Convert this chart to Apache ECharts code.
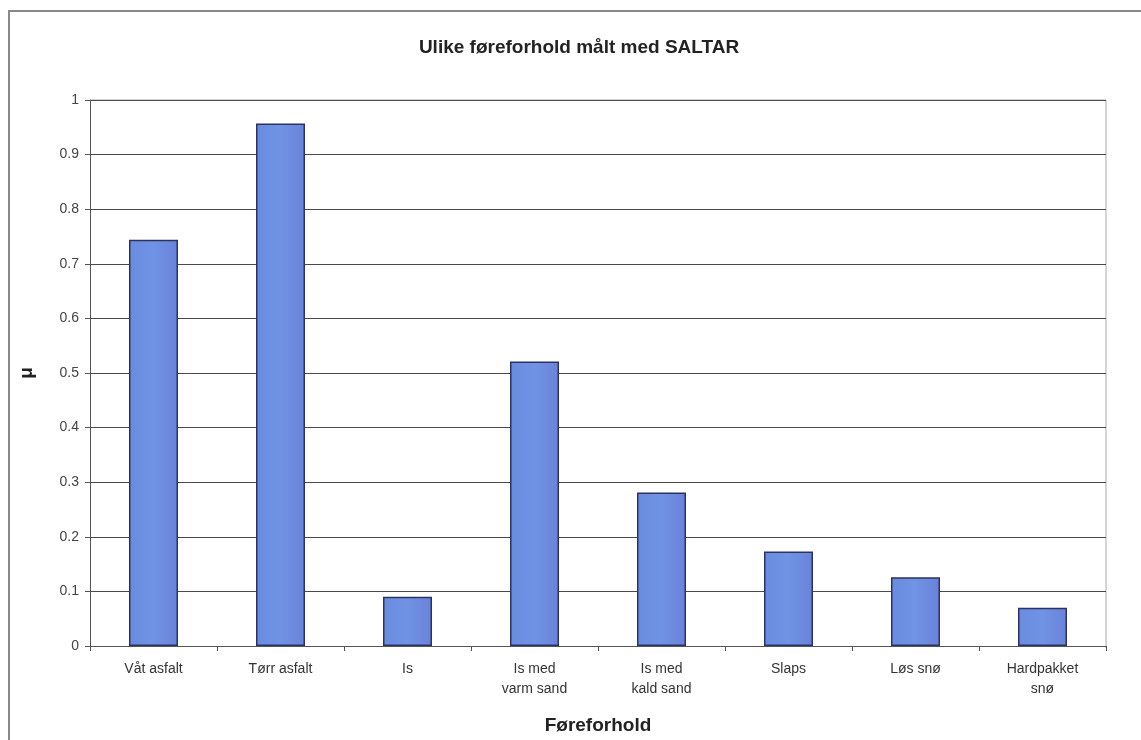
<!DOCTYPE html>
<html>
<head>
<meta charset="utf-8">
<script src="https://cdn.jsdelivr.net/npm/echarts@6/dist/echarts.min.js"></script>
<style>html,body{margin:0;padding:0;background:#fff}#c{width:1141px;height:740px}</style>
</head>
<body>
<div id="c"></div>
<script>
var categories = ['Våt asfalt', 'Tørr asfalt', 'Is', 'Is med\nvarm sand', 'Is med\nkald sand', 'Slaps', 'Løs snø', 'Hardpakket\nsnø'];
var muValues = [0.744, 0.957, 0.09, 0.521, 0.281, 0.173, 0.126, 0.07];
var yTicks = [0, 0.1, 0.2, 0.3, 0.4, 0.5, 0.6, 0.7, 0.8, 0.9, 1];

var chart = echarts.init(document.getElementById('c'));
chart.setOption({
  backgroundColor: '#fff',
  animation: false,
  title: {
    text: 'Ulike føreforhold målt med SALTAR',
    left: 574, top: 33, textAlign: 'center',
    textStyle: { fontFamily: '"Liberation Sans", Arial, sans-serif', fontWeight: 'bold', fontSize: 19, color: '#222' }
  },
  graphic: [
    { type: 'polyline', shape: { points: [[9, 740], [9, 11], [1141, 11]] }, style: { stroke: '#888', lineWidth: 2, fill: null } },
    { type: 'polyline', shape: { points: [[90, 100], [1106, 100], [1106, 648]] }, style: { stroke: '#aaa', lineWidth: 1, fill: null } }
  ],
  grid: { left: 90, right: 35, top: 100, bottom: 92, containLabel: false },
  xAxis: {
    type: 'category',
    data: categories,
    name: 'Føreforhold',
    nameLocation: 'middle',
    nameGap: 70,
    nameTextStyle: { fontFamily: '"Liberation Sans", Arial, sans-serif', fontWeight: 'bold', fontSize: 19, color: '#222' },
    axisLine: { lineStyle: { color: '#555', width: 1 } },
    axisTick: { show: true, alignWithLabel: false, length: 5, lineStyle: { color: '#555' } },
    axisLabel: { interval: 0, margin: 13, fontSize: 14, lineHeight: 20, color: '#333', fontFamily: '"Liberation Sans", Arial, sans-serif' }
  },
  yAxis: {
    type: 'value',
    min: 0, max: 1, interval: 0.1,
    name: 'μ',
    nameLocation: 'middle',
    nameRotate: 90,
    nameGap: 54,
    nameTextStyle: { fontFamily: '"Liberation Sans", Arial, sans-serif', fontWeight: 'bold', fontSize: 19, color: '#222' },
    axisLine: { show: true, lineStyle: { color: '#555', width: 1 } },
    axisTick: { show: true, length: 5, lineStyle: { color: '#555' } },
    axisLabel: {
      margin: 11, fontSize: 14, color: '#444', fontFamily: '"Liberation Sans", Arial, sans-serif',
      formatter: function (v) { return yTicks.indexOf(Math.round(v * 10) / 10) >= 0 ? String(Math.round(v * 10) / 10) : ''; }
    },
    splitLine: { show: true, lineStyle: { color: '#4a4a4a', width: 1.2 } }
  },
  series: [{
    type: 'bar',
    data: muValues,
    barWidth: 49,
    itemStyle: {
      color: new echarts.graphic.LinearGradient(0, 0, 1, 0, [
        { offset: 0, color: '#6a8ce0' },
        { offset: 0.5, color: '#7093e4' },
        { offset: 1, color: '#6a82da' }
      ]),
      borderColor: '#2c3262',
      borderWidth: 1.5
    }
  }]
});
</script>
</body>
</html>
